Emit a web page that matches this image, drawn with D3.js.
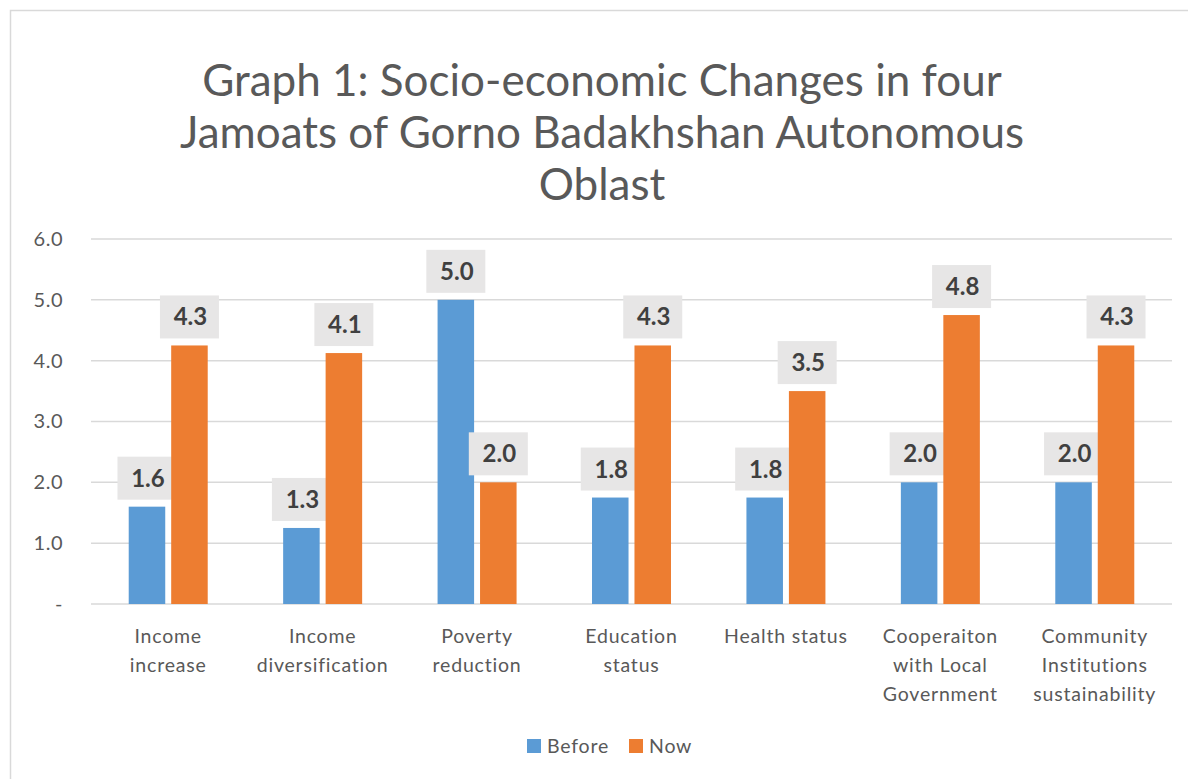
<!DOCTYPE html>
<html lang="en">
<head>
    <meta charset="UTF-8">
    <title>Graph 1</title>
    <script src="https://d3js.org/d3.v7.min.js"></script>
    <style>
        body { margin: 0; background: #fff; }
        svg { display: block; font-family: Lato, "Open Sans", sans-serif; }
    </style>
</head>
<body>
    <svg width="1188" height="779"></svg>
    <script>
        const categories = [
            ['Income', 'increase'],
            ['Income', 'diversification'],
            ['Poverty', 'reduction'],
            ['Education', 'status'],
            ['Health status'],
            ['Cooperaiton', 'with Local', 'Government'],
            ['Community', 'Institutions', 'sustainability']
        ];
        const seriesNames = ['Before', 'Now'];
        const before = [1.6, 1.25, 5.0, 1.75, 1.75, 2.0, 2.0];
        const now = [4.25, 4.125, 2.0, 4.25, 3.5, 4.75, 4.25];
        const yTicks = [0, 1, 2, 3, 4, 5, 6];
        const titleLines = [
            'Graph 1: Socio-economic Changes in four',
            'Jamoats of Gorno Badakhshan Autonomous',
            'Oblast'
        ];
        const colors = { Before: '#5b9bd5', Now: '#ed7d31' };

        const svg = d3.select("svg");

        // chart frame (runs off the right and bottom edge)
        svg.append("rect")
            .attr("x", 10.5).attr("y", 10.5)
            .attr("width", 1200).attr("height", 800)
            .attr("fill", "none").attr("stroke", "#d9d9d9").attr("stroke-width", 1.5);

        // title
        svg.append("g").selectAll("text")
            .data(titleLines)
            .join("text")
            .attr("x", 602)
            .attr("y", (d, i) => 96 + i * 52)
            .attr("text-anchor", "middle")
            .attr("font-size", 44)
            .attr("fill", "#595959")
            .text(d => d);

        const x0 = d3.scaleBand()
            .domain(d3.range(categories.length))
            .range([91, 1172]);
        const x1 = d3.scaleBand()
            .domain(seriesNames)
            .range([0, 79])
            .paddingInner(0.14);
        const y = d3.scaleLinear().domain([0, 6]).range([604, 239]);

        // gridlines
        svg.append("g").selectAll("line")
            .data(yTicks)
            .join("line")
            .attr("x1", 91).attr("x2", 1172)
            .attr("y1", d => y(d)).attr("y2", d => y(d))
            .attr("stroke", "#d9d9d9").attr("stroke-width", 1.5);

        // y axis labels
        const yAxis = d3.axisLeft(y)
            .tickValues(yTicks)
            .tickSize(0)
            .tickPadding(0)
            .tickFormat(d => d === 0 ? '-' : d.toFixed(1));
        const yg = svg.append("g").attr("transform", "translate(63,0)").call(yAxis);
        yg.select(".domain").remove();
        yg.selectAll("text")
            .attr("font-size", 20)
            .attr("letter-spacing", 0.5)
            .attr("font-family", "Lato, sans-serif")
            .attr("fill", "#595959");

        const rows = categories.map((c, i) => ({ i, Before: before[i], Now: now[i] }));

        const groups = svg.append("g").selectAll("g")
            .data(rows)
            .join("g")
            .attr("transform", d => `translate(${x0(d.i) + (x0.bandwidth() - 79) / 2},0)`);

        const cells = groups.selectAll("g")
            .data(d => seriesNames.map(s => ({ s, v: d[s] })))
            .join("g");

        cells.append("rect")
            .attr("x", d => x1(d.s))
            .attr("y", d => y(d.v))
            .attr("width", x1.bandwidth())
            .attr("height", d => y(0) - y(d.v))
            .attr("fill", d => colors[d.s]);

        // data labels
        cells.append("rect")
            .attr("x", d => x1(d.s) + x1.bandwidth() / 2 - 29.5)
            .attr("y", d => y(d.v) - 7 - 43)
            .attr("width", 59)
            .attr("height", 43)
            .attr("fill", "#e7e6e6");
        cells.append("text")
            .attr("x", d => x1(d.s) + x1.bandwidth() / 2 + 1)
            .attr("y", d => y(d.v) - 7 - 13)
            .attr("text-anchor", "middle")
            .attr("font-size", 24)
            .attr("font-weight", "bold")
            .attr("fill", "#404040")
            .text(d => d.v.toFixed(1));

        // category labels
        const xl = svg.append("g").selectAll("text")
            .data(categories)
            .join("text")
            .attr("x", (d, i) => x0(i) + x0.bandwidth() / 2)
            .attr("y", 643)
            .attr("text-anchor", "middle")
            .attr("font-size", 19.5)
            .attr("letter-spacing", 0.8)
            .attr("fill", "#595959");
        xl.selectAll("tspan")
            .data(d => d)
            .join("tspan")
            .attr("x", function () { return this.parentNode.getAttribute("x"); })
            .attr("dy", (d, i) => i === 0 ? 0 : 29)
            .text(d => d);

        // legend
        const legendItems = [{ s: 'Before', x: 527 }, { s: 'Now', x: 629 }];
        const lg = svg.append("g").selectAll("g")
            .data(legendItems)
            .join("g")
            .attr("transform", d => `translate(${d.x},739)`);
        lg.append("rect")
            .attr("width", 14).attr("height", 14)
            .attr("fill", d => colors[d.s]);
        lg.append("text")
            .attr("x", 20).attr("y", 14)
            .attr("font-size", 19.5)
            .attr("letter-spacing", 0.8)
            .attr("fill", "#595959")
            .text(d => d.s);
    </script>
</body>
</html>
